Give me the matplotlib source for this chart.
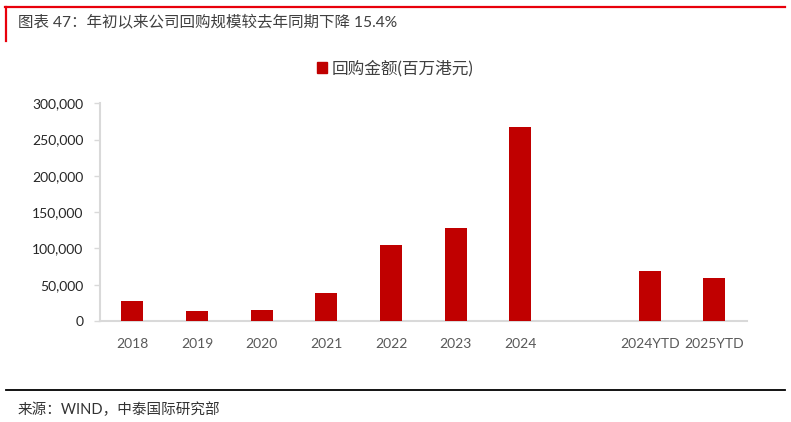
import matplotlib
matplotlib.use('Agg')
import matplotlib.pyplot as plt
from matplotlib.lines import Line2D
from matplotlib.patches import Rectangle
from matplotlib.ticker import FuncFormatter
import numpy as np

# ---- data ----
categories = ['2018', '2019', '2020', '2021', '2022', '2023', '2024', '', '2024YTD', '2025YTD']
buyback = [27600, 13300, 15600, 38100, 105200, 127700, 266900, np.nan, 69500, 58800]

title = '图表 47：年初以来公司回购规模较去年同期下降 15.4%'
legend_label = '回购金额(百万港元)'
source = '来源：WIND，中泰国际研究部'

BAR_RED = '#C00000'
AXIS_GREY = '#D9D9D9'
FONTS = ['Lato', 'Noto Sans CJK SC', 'DejaVu Sans']

plt.rcParams['font.family'] = FONTS

W, H = 791, 422
fig = plt.figure(figsize=(W / 100, H / 100), dpi=100)

# frame lines of the report layout
fig.add_artist(Line2D([5 / W, 785 / W], [1 - 6.5 / H, 1 - 6.5 / H], color='#E8000B', lw=1.6))
fig.add_artist(Line2D([5.5 / W, 5.5 / W], [1 - 6.5 / H, 1 - 41 / H], color='#E8000B', lw=1.6))
fig.add_artist(Line2D([6 / W, 785 / W], [1 - 389.7 / H, 1 - 389.7 / H], color='black', lw=1.3))

fig.text(18 / W, 1 - 23 / H, title, fontsize=11.2, color='#404040', va='center', ha='left')
fig.text(18 / W, 1 - 410 / H, source, fontsize=10.5, color='#333333', va='center', ha='left')

# axes
ax = fig.add_axes([100 / W, 1 - 321 / H, 646.7 / W, 217.7 / H])
x = np.arange(len(categories))
ax.bar(x, buyback, width=0.34, color=BAR_RED, zorder=3)

ax.set_xlim(-0.5, len(categories) - 0.5)
ax.set_ylim(0, 300000)
ax.set_yticks(np.arange(0, 300001, 50000))
ax.yaxis.set_major_formatter(FuncFormatter(lambda v, p: f'{int(v):,}'))
ax.set_xticks(x)
ax.set_xticklabels(categories)

for s in ['top', 'right']:
    ax.spines[s].set_visible(False)
for s in ['left', 'bottom']:
    ax.spines[s].set_color(AXIS_GREY)
    ax.spines[s].set_linewidth(1.5)

ax.tick_params(axis='y', length=4, width=1, color=AXIS_GREY, labelsize=10, labelcolor='#262626', pad=8)
ax.tick_params(axis='x', length=0, labelsize=10, labelcolor='#595959', pad=12)

# legend on top
handle = Rectangle((0, 0), 1, 1, color=BAR_RED)
fig.legend([handle], [legend_label], loc='center', bbox_to_anchor=(395 / W, 1 - 68 / H),
           frameon=False, fontsize=12, handlelength=0.6, handleheight=0.6,
           handletextpad=0.3, labelcolor='#404040')

fig.savefig('out.png', dpi=100)
